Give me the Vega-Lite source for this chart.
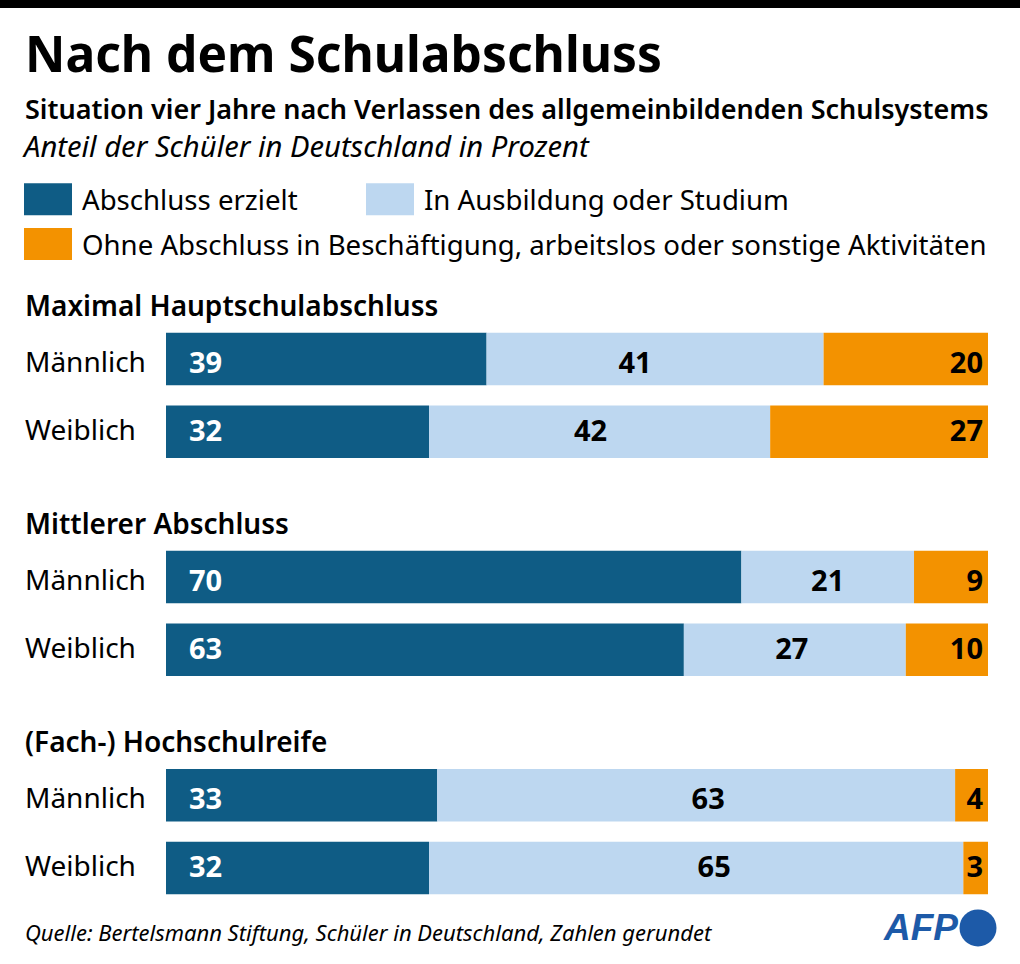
{
  "$schema": "https://vega.github.io/schema/vega-lite/v6.json",
  "description": "Situation vier Jahre nach Verlassen des allgemeinbildenden Schulsystems",
  "autosize": "none",
  "width": 822,
  "height": 581.6,
  "padding": {"left": 166, "top": 322.65, "right": 32, "bottom": 59.75},
  "background": "white",
  "title": {
    "text": "Nach dem Schulabschluss",
    "subtitle": "Situation vier Jahre nach Verlassen des allgemeinbildenden Schulsystems",
    "anchor": "start",
    "frame": "group",
    "dx": -141,
    "offset": -125,
    "font": "Noto Sans",
    "fontSize": 49.7,
    "fontWeight": "bold",
    "color": "#000000",
    "subtitleFont": "Noto Sans",
    "subtitleFontSize": 27,
    "subtitleFontWeight": 600,
    "subtitleColor": "#000000",
    "subtitlePadding": 15
  },
  "data": {
    "values": [
      {"gruppe": "Maximal Hauptschulabschluss", "geschlecht": "Männlich", "zeile": "M1", "status": "Abschluss erzielt", "wert": 39},
      {"gruppe": "Maximal Hauptschulabschluss", "geschlecht": "Männlich", "zeile": "M1", "status": "In Ausbildung oder Studium", "wert": 41},
      {"gruppe": "Maximal Hauptschulabschluss", "geschlecht": "Männlich", "zeile": "M1", "status": "Ohne Abschluss in Beschäftigung, arbeitslos oder sonstige Aktivitäten", "wert": 20},
      {"gruppe": "Maximal Hauptschulabschluss", "geschlecht": "Weiblich", "zeile": "W1", "status": "Abschluss erzielt", "wert": 32},
      {"gruppe": "Maximal Hauptschulabschluss", "geschlecht": "Weiblich", "zeile": "W1", "status": "In Ausbildung oder Studium", "wert": 41.5},
      {"gruppe": "Maximal Hauptschulabschluss", "geschlecht": "Weiblich", "zeile": "W1", "status": "Ohne Abschluss in Beschäftigung, arbeitslos oder sonstige Aktivitäten", "wert": 26.5},
      {"gruppe": "Mittlerer Abschluss", "geschlecht": "Männlich", "zeile": "M2", "status": "Abschluss erzielt", "wert": 70},
      {"gruppe": "Mittlerer Abschluss", "geschlecht": "Männlich", "zeile": "M2", "status": "In Ausbildung oder Studium", "wert": 21},
      {"gruppe": "Mittlerer Abschluss", "geschlecht": "Männlich", "zeile": "M2", "status": "Ohne Abschluss in Beschäftigung, arbeitslos oder sonstige Aktivitäten", "wert": 9},
      {"gruppe": "Mittlerer Abschluss", "geschlecht": "Weiblich", "zeile": "W2", "status": "Abschluss erzielt", "wert": 63},
      {"gruppe": "Mittlerer Abschluss", "geschlecht": "Weiblich", "zeile": "W2", "status": "In Ausbildung oder Studium", "wert": 27},
      {"gruppe": "Mittlerer Abschluss", "geschlecht": "Weiblich", "zeile": "W2", "status": "Ohne Abschluss in Beschäftigung, arbeitslos oder sonstige Aktivitäten", "wert": 10},
      {"gruppe": "(Fach-) Hochschulreife", "geschlecht": "Männlich", "zeile": "M3", "status": "Abschluss erzielt", "wert": 33},
      {"gruppe": "(Fach-) Hochschulreife", "geschlecht": "Männlich", "zeile": "M3", "status": "In Ausbildung oder Studium", "wert": 63},
      {"gruppe": "(Fach-) Hochschulreife", "geschlecht": "Männlich", "zeile": "M3", "status": "Ohne Abschluss in Beschäftigung, arbeitslos oder sonstige Aktivitäten", "wert": 4},
      {"gruppe": "(Fach-) Hochschulreife", "geschlecht": "Weiblich", "zeile": "W3", "status": "Abschluss erzielt", "wert": 32},
      {"gruppe": "(Fach-) Hochschulreife", "geschlecht": "Weiblich", "zeile": "W3", "status": "In Ausbildung oder Studium", "wert": 65},
      {"gruppe": "(Fach-) Hochschulreife", "geschlecht": "Weiblich", "zeile": "W3", "status": "Ohne Abschluss in Beschäftigung, arbeitslos oder sonstige Aktivitäten", "wert": 3}
    ]
  },
  "encoding": {
    "y": {
      "field": "zeile",
      "type": "nominal",
      "axis": null,
      "scale": {
        "domain": ["M1", "W1", "L1", "M2", "W2", "L2", "M3", "W3"],
        "paddingInner": 0.278,
        "paddingOuter": 0.139
      }
    }
  },
  "layer": [
    {
      "mark": {"type": "bar", "clip": false},
      "encoding": {
        "x": {
          "field": "wert",
          "type": "quantitative",
          "stack": "zero",
          "axis": null,
          "scale": {"domain": [0, 100], "nice": false}
        },
        "fill": {
          "field": "status",
          "type": "nominal",
          "scale": {
            "domain": ["Abschluss erzielt", "In Ausbildung oder Studium", "Ohne Abschluss in Beschäftigung, arbeitslos oder sonstige Aktivitäten"],
            "range": ["#0f5c85", "#bdd7f0", "#f39200"]
          },
          "legend": {
            "title": null,
            "orient": "none",
            "legendX": -150,
            "legendY": -152.65,
            "direction": "horizontal",
            "columns": 2,
            "columnPadding": 60,
            "values": ["Abschluss erzielt", "In Ausbildung oder Studium"],
            "symbolType": "M-0.75,-0.594H0.75V0.406H-0.75Z",
            "symbolSize": 4096,
            "symbolStrokeWidth": 0,
            "symbolOpacity": 1,
            "labelFont": "Noto Sans",
            "labelFontSize": 27.6,
            "labelColor": "#000000",
            "labelOffset": 2,
            "labelLimit": 950
          }
        },
        "order": {"field": "status", "sort": "ascending"}
      }
    },
    {
      "transform": [{"filter": "datum.status == 'Ohne Abschluss in Beschäftigung, arbeitslos oder sonstige Aktivitäten'"}],
      "mark": {"type": "text", "text": "", "strokeWidth": 0, "fill": "#f39200"},
      "encoding": {
        "stroke": {
          "field": "status",
          "type": "nominal",
          "scale": {"range": ["#f39200"]},
          "legend": {
            "title": null,
            "orient": "none",
            "legendX": -150,
            "legendY": -107.65,
            "symbolType": "M-0.75,-0.594H0.75V0.406H-0.75Z",
            "symbolSize": 4096,
            "symbolStrokeWidth": 0,
            "symbolFillColor": "#f39200",
            "symbolOpacity": 1,
            "labelFont": "Noto Sans",
            "labelFontSize": 27.6,
            "labelColor": "#000000",
            "labelOffset": 2,
            "labelLimit": 950
          }
        }
      }
    },
    {
      "transform": [{"filter": "datum.status == 'Abschluss erzielt'"}],
      "mark": {"type": "text", "align": "left", "baseline": "middle", "xOffset": 23, "yOffset": {"expr": "datum.geschlecht == 'Männlich' ? 5 : 0"}, "font": "Noto Sans", "fontSize": 29, "fontWeight": "bold", "color": "white"},
      "encoding": {
        "x": {"datum": 0},
        "text": {"field": "wert", "type": "quantitative", "format": ".0f"}
      }
    },
    {
      "mark": {
        "type": "text",
        "align": "center",
        "baseline": "middle",
        "font": "Noto Sans",
        "fontSize": 29,
        "fontWeight": "bold",
        "color": "black",
        "yOffset": {"expr": "datum.geschlecht == 'Männlich' ? 5 : 0"},
        "xOffset": {"expr": "datum.zeile == 'M1' ? -20 : datum.zeile == 'W1' ? -9 : datum.zeile == 'W2' ? -3 : datum.zeile == 'M3' ? 12 : datum.zeile == 'W3' ? 18 : 0"}
      },
      "encoding": {
        "x": {"field": "wert", "type": "quantitative", "stack": "zero", "bandPosition": 0.5},
        "detail": {"field": "status"},
        "order": {"field": "status", "sort": "ascending"},
        "text": {
          "condition": {"test": "datum.status == 'In Ausbildung oder Studium'", "field": "wert", "type": "quantitative", "format": ".0f"},
          "value": ""
        }
      }
    },
    {
      "transform": [{"filter": "datum.status == 'Ohne Abschluss in Beschäftigung, arbeitslos oder sonstige Aktivitäten'"}],
      "mark": {"type": "text", "align": "right", "baseline": "middle", "xOffset": -5, "yOffset": {"expr": "datum.geschlecht == 'Männlich' ? 5 : 0"}, "font": "Noto Sans", "fontSize": 29, "fontWeight": "bold", "color": "black"},
      "encoding": {
        "x": {"datum": 100},
        "text": {"field": "wert", "type": "quantitative", "format": ".0f"}
      }
    },
    {
      "transform": [{"filter": "datum.status == 'Abschluss erzielt'"}],
      "mark": {"type": "text", "align": "left", "baseline": "middle", "xOffset": -141, "yOffset": {"expr": "datum.geschlecht == 'Männlich' ? 4.5 : 0"}, "font": "Noto Sans", "fontSize": 28, "color": "black"},
      "encoding": {
        "x": {"datum": 0},
        "text": {"field": "geschlecht"}
      }
    },
    {
      "transform": [{"filter": "datum.status == 'Abschluss erzielt' && datum.geschlecht == 'Männlich'"}],
      "mark": {"type": "text", "align": "left", "baseline": "middle", "xOffset": -141, "yOffset": -51, "font": "Noto Sans", "fontSize": 28, "fontWeight": 600, "color": "black"},
      "encoding": {
        "x": {"datum": 0},
        "text": {"field": "gruppe"}
      }
    },
    {
      "data": {"values": [{"zeile": "M1", "text": "Anteil der Schüler in Deutschland in Prozent"}]},
      "mark": {"type": "text", "align": "left", "baseline": "middle", "xOffset": -142, "yOffset": -211, "font": "Noto Sans", "fontSize": 29.2, "fontStyle": "italic", "color": "black"},
      "encoding": {
        "x": {"datum": 0},
        "text": {"field": "text"}
      }
    },
    {
      "data": {"values": [{"zeile": "W3", "text": "Quelle: Bertelsmann Stiftung, Schüler in Deutschland, Zahlen gerundet"}]},
      "mark": {"type": "text", "align": "left", "baseline": "middle", "xOffset": -141, "yOffset": 66, "font": "Noto Sans", "fontSize": 22, "fontStyle": "italic", "color": "black"},
      "encoding": {
        "x": {"datum": 0},
        "text": {"field": "text"}
      }
    },
    {
      "data": {"values": [{"zeile": "W3", "text": "AFP"}]},
      "mark": {"type": "text", "align": "right", "baseline": "middle", "xOffset": -30, "yOffset": 61, "font": "Liberation Sans", "fontSize": 37, "fontWeight": "bold", "fontStyle": "italic", "color": "#1d5aa8"},
      "encoding": {
        "x": {"datum": 100},
        "text": {"field": "text"}
      }
    },
    {
      "data": {"values": [{"zeile": "W3"}]},
      "mark": {"type": "point", "shape": "circle", "filled": true, "opacity": 1, "size": 1369, "xOffset": -10, "yOffset": 60, "color": "#1d5aa8"},
      "encoding": {
        "x": {"datum": 100}
      }
    },
    {
      "data": {"values": [{"zeile": "M1"}]},
      "mark": {"type": "rule", "color": "black", "strokeWidth": 8, "yOffset": -355},
      "encoding": {
        "x": {"datum": -20.2},
        "x2": {"datum": 103.9}
      }
    }
  ],
  "resolve": {"scale": {"fill": "independent"}},
  "config": {"view": {"stroke": null}, "font": "Noto Sans"}
}
